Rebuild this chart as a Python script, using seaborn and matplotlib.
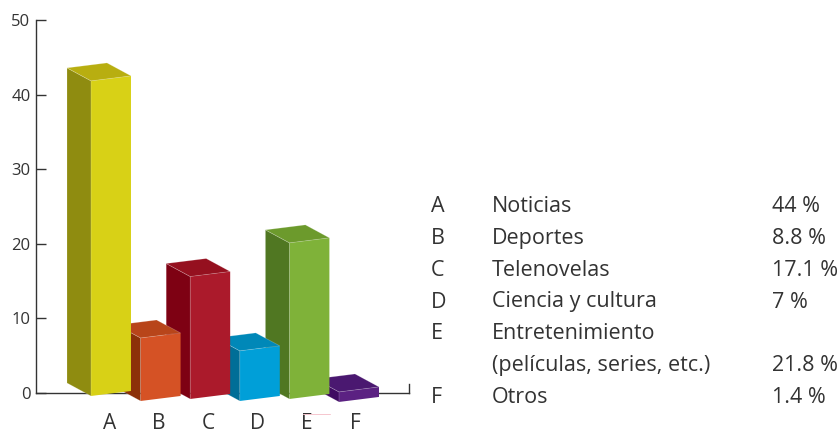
import matplotlib
matplotlib.use("Agg")
import matplotlib.pyplot as plt
import seaborn as sns
from matplotlib.patches import Polygon
from matplotlib.lines import Line2D
from matplotlib.transforms import Affine2D

# Datos de la grafica
letras = ["A", "B", "C", "D", "E", "F"]
temas = ["Noticias", "Deportes", "Telenovelas", "Ciencia y cultura",
         "Entretenimiento\n(películas, series, etc.)", "Otros"]
valores = [44, 8.8, 17.1, 7, 21.8, 1.4]
etiquetas = ["44 %", "8.8 %", "17.1 %", "7 %", "21.8 %", "1.4 %"]

# Colores: frente, lado, tapa
frente = ["#D8D116", "#D55225", "#AB1A2B", "#009FD8", "#7FB239", "#5B2182"]
lado = ["#8F8C10", "#8C3109", "#7E0113", "#006E97", "#507722", "#3F0B62"]
tapa = ["#B8AE10", "#B8451A", "#95101F", "#0088B8", "#6C9A2C", "#4A1870"]

# Falsa perspectiva, en unidades de los ejes
base = [-0.4, -1.07, -0.8, -1.07, -0.8, -1.2]
escala = 0.96
fondo_x = -0.484
fondo_y = 1.74
incl = 0.67
ancho = 0.806

W, H = 839, 432
sns.set_style("white")
plt.rcParams["font.family"] = ["Open Sans", "DejaVu Sans"]
tinta = "#333333"

fig = plt.figure(figsize=(W / 100, H / 100), dpi=100)
ax = fig.add_axes([36 / W, (H - 393) / H, 373 / W, 373 / H])
ax.patch.set_alpha(0)

sns.barplot(x=letras, y=[v * escala for v in valores], hue=letras, palette=frente,
            width=ancho, saturation=1, legend=False, ax=ax, clip_on=False)

ax.set_xlim(-1.512, 6.008)
ax.set_ylim(0, 50)

# Cada barra recibe su lado y su tapa; las de la izquierda quedan encima
for i, bar in enumerate(ax.patches):
    x0 = bar.get_x()
    w = bar.get_width()
    h = bar.get_height()
    b = base[i]
    z = 10 - i
    bar.set_y(b)
    k = incl / w
    bar.set_transform(Affine2D.from_values(1, k, 0, 1, 0, -k * x0) + ax.transData)
    bar.set_zorder(z)
    bar.set_linewidth(0)
    ax.add_patch(Polygon([(x0, b), (x0, b + h), (x0 + fondo_x, b + h + fondo_y), (x0 + fondo_x, b + fondo_y)],
                         facecolor=lado[i], edgecolor="#FFFFFF40", linewidth=0.5, zorder=z, clip_on=False))
    ax.add_patch(Polygon([(x0, b + h), (x0 + w, b + h + incl), (x0 + w + fondo_x, b + h + incl + fondo_y),
                          (x0 + fondo_x, b + h + fondo_y)],
                         facecolor=tapa[i], edgecolor="#FFFFFF40", linewidth=0.5, zorder=z, clip_on=False))

sns.despine(ax=ax, top=True, right=False)
ax.spines["right"].set_bounds(0, 1.2)
for s in ["left", "bottom", "right"]:
    ax.spines[s].set_color(tinta)
    ax.spines[s].set_linewidth(1)

ax.set_yticks([0, 10, 20, 30, 40, 50])
ax.tick_params(axis="y", left=True, direction="in", length=7.2, width=1, color=tinta,
               labelsize=12, labelcolor=tinta, pad=4)
# Las letras van un poco corridas respecto al centro de cada barra
ax.set_xticks([i * 0.99 - 0.02 for i in range(6)])
ax.set_xticklabels(letras)
ax.tick_params(axis="x", bottom=False, labelsize=15, labelcolor=tinta, pad=11)
ax.set_xlabel("")
ax.set_ylabel("")

# Linea rosa suelta sobre la E
fig.add_artist(Line2D([303 / W, 330 / W], [(H - 414) / H] * 2, color="#F6C6CE", linewidth=0.7))

# Tabla de la derecha, por lineas de base
filas = [212, 244, 275.5, 307.5, 339, 403]
for i in range(6):
    y = (H - filas[i]) / H
    fig.text(431 / W, y, letras[i], fontsize=15.5, color=tinta, va="baseline")
    partes = temas[i].split("\n")
    fig.text(492 / W, y, partes[0], fontsize=15.5, color=tinta, va="baseline")
    if len(partes) > 1:
        y = (H - 371) / H
        fig.text(492 / W, y, partes[1], fontsize=15.5, color=tinta, va="baseline")
    fig.text(772 / W, y, etiquetas[i], fontsize=15.5, color=tinta, va="baseline")

fig.savefig("out.png", dpi=100)
